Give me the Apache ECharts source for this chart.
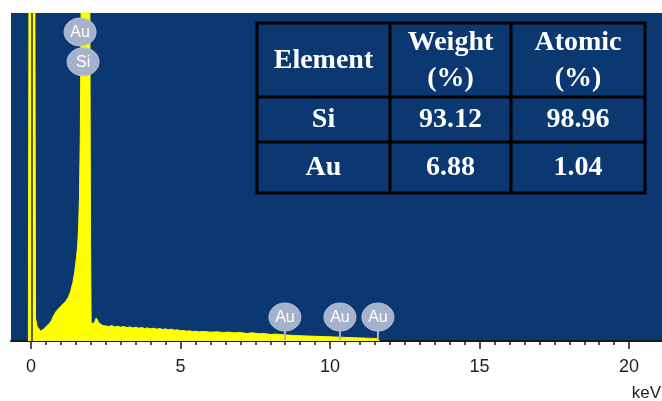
<!DOCTYPE html>
<html><head><meta charset="utf-8">
<script src="https://cdn.jsdelivr.net/npm/echarts@6/dist/echarts.min.js"></script>
<style>html,body{margin:0;padding:0;background:#fff}#c{width:662px;height:401px}</style>
</head><body><div id="c"></div>
<script>
// Spectrum (energy in keV, counts in arbitrary units; 1000 = top of plot)
const energyKeV = [-0.09,-0.06,0.12,0.15,0.2,0.26,0.32,0.38,0.45,0.52,0.6,0.68,0.76,0.84,0.92,1.0,1.08,1.16,1.24,1.32,1.4,1.46,1.52,1.56,1.59,1.62,1.65,1.68,1.74,1.85,1.95,1.99,2.01,2.06,2.12,2.18,2.22,2.27,2.33,2.4,
 2.5,2.6,2.7,2.8,2.9,3.0,3.1,3.2,3.3,3.4,3.5,3.6,3.7,3.8,3.9,4.0,4.1,4.2,4.3,4.4,4.5,4.6,4.7,4.8,4.9,5.0,5.1,5.2,5.3,5.4,5.5,5.6,5.8,6.0,6.2,6.4,6.6,6.8,7.0,7.2,7.4,7.6,7.8,8.0,8.2,8.4,8.6,8.8,9.0,9.3,9.6,9.9,10.2,10.5,10.8,11.1,11.4,11.6,11.65];
const counts = [0,1500,1500,70,45,40,30,28,38,46,52,62,78,90,98,106,114,121,132,150,178,210,255,290,345,440,650,1100,3000,2500,1500,300,52,48,56,70,66,55,50,47,
 46,44,47,43,45,42,44,41,43,40,42,39,41,38,40,37,39,36,38,35,37,34,36,33,34,31,32,30,31,29,30,28,29,27,28,26,27,25,26,23,25,22,23,20,21,19,18,17,16,15,14,13,12,11,10,9,8,7,0];

// Element marker bubbles
const markerNames = ['Au','Si','Au','Au','Au'];
const markerKeV = [1.64,1.74,8.49,10.33,11.6];
const markerY = [942,851,73,73,73];
const markerStem = [false,false,true,true,true];

// Axis ticks / labels
const tickLabels = [0,5,10,15,20];
const minorTicks = [0,0.5,1,1.5,2,2.5,3,3.5,4,4.5,5,5.5,6,6.5,7,7.5,8,8.5,9,9.5,10,10.5,11,11.5,12,12.5,13,13.5,14,14.5,15,15.5,16,16.5,17,17.5,18,18.5,19,19.5,20];

// Composition table
const tableHeader = ['Element','Weight\n(%)','Atomic\n(%)'];
const tableRows = [['Si','93.12','98.96'],['Au','6.88','1.04']];

const NAVY = '#0b3870';
const chart = echarts.init(document.getElementById('c'));

// table graphic
const colX = [257,390,511,645];
const rowY = [23,97,142,193];
const tableEls = [];
tableEls.push({type:'rect',shape:{x:colX[0],y:rowY[0],width:colX[3]-colX[0],height:rowY[3]-rowY[0]},style:{fill:NAVY,stroke:'#000',lineWidth:3},z:100});
for (let i=1;i<3;i++) tableEls.push({type:'line',shape:{x1:colX[i],y1:rowY[0],x2:colX[i],y2:rowY[3]},style:{stroke:'#000',lineWidth:3},z:101});
for (let i=1;i<3;i++) tableEls.push({type:'line',shape:{x1:colX[0],y1:rowY[i],x2:colX[3],y2:rowY[i]},style:{stroke:'#000',lineWidth:3},z:101});
const allRows = [tableHeader].concat(tableRows);
allRows.forEach((row,r)=>{
  row.forEach((txt,c)=>{
    tableEls.push({type:'text',x:(colX[c]+colX[c+1])/2,y:(rowY[r]+rowY[r+1])/2+(r===0?1:0),z:102,
      style:{text:txt,fill:'#fff',font:'bold 28px "Liberation Serif", "Times New Roman", serif',align:'center',verticalAlign:'middle',lineHeight:36}});
  });
});
tableEls.push({type:'text',right:1,top:385,z:102,style:{text:'keV',fill:'#222',font:'17px "Liberation Sans", Arial, sans-serif'}});

chart.setOption({
  animation:false,
  backgroundColor:'#fff',
  grid:{left:11,right:0,top:13,bottom:60,show:true,backgroundColor:NAVY,borderWidth:0},
  xAxis:[{
    type:'value',min:-0.67,max:21.1,
    splitLine:{show:false},
    axisLine:{show:true,onZero:false,lineStyle:{color:'#1a1a1a',width:2}},
    axisTick:{show:true,customValues:minorTicks,length:4,lineStyle:{color:'#1a1a1a',width:1.5}},
    axisLabel:{show:true,customValues:tickLabels,margin:17,color:'#222',fontSize:18,fontFamily:'"Liberation Sans", Arial, sans-serif'}
  },{
    type:'value',min:-0.67,max:21.1,position:'bottom',
    splitLine:{show:false},
    axisLine:{show:false},
    axisTick:{show:true,customValues:tickLabels,length:8,lineStyle:{color:'#1a1a1a',width:1.5}},
    axisLabel:{show:false}
  }],
  yAxis:{type:'value',min:0,max:1000,show:false,splitLine:{show:false}},
  series:[{
    type:'line',xAxisIndex:0,
    data:energyKeV.map((e,i)=>[e,counts[i]]),
    symbol:'none',clip:true,
    lineStyle:{color:'#ffff00',width:1},
    areaStyle:{color:'#ffff00',opacity:1},
    markLine:{silent:true,symbol:'none',label:{show:false},lineStyle:{color:'#2a2a20',width:1.5,type:'solid'},data:[{xAxis:0.04}]}
  },{
    type:'custom',xAxisIndex:0,
    data:markerKeV.map((e,i)=>[e,markerY[i]]),
    renderItem:function(params,api){
      const i = params.dataIndex;
      const p = api.coord([api.value(0),api.value(1)]);
      const base = api.coord([api.value(0),0]);
      const rx=16, ry=14;
      const children=[];
      if (markerStem[i]) children.push({type:'line',shape:{x1:p[0],y1:p[1]+ry-1,x2:p[0],y2:base[1]-1},style:{stroke:'#a8b3cc',lineWidth:2}});
      children.push({type:'ellipse',shape:{cx:p[0],cy:p[1],rx:rx,ry:ry},style:{fill:'#a6b1cb',stroke:'#b8c2d8',lineWidth:1}});
      children.push({type:'text',x:p[0],y:p[1]+1,style:{text:markerNames[i],fill:'#fff',font:'16px "Liberation Sans", Arial, sans-serif',align:'center',verticalAlign:'middle'}});
      return {type:'group',children:children};
    },
    z:10
  }],
  graphic:tableEls
});
</script></body></html>
